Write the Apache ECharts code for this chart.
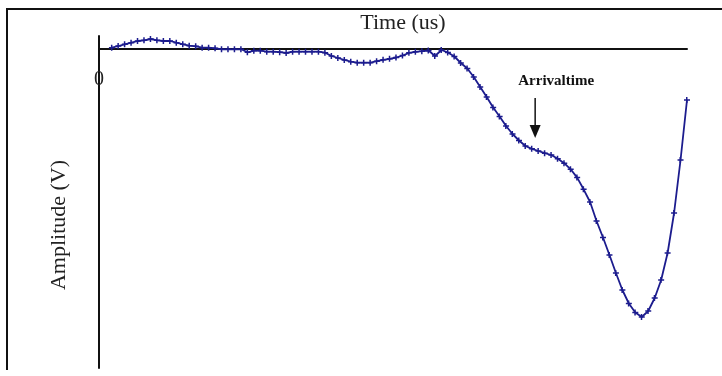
<!DOCTYPE html>
<html>
<head>
<meta charset="utf-8">
<script src="https://cdn.jsdelivr.net/npm/echarts@6/dist/echarts.min.js"></script>
<style>
  html, body { margin: 0; padding: 0; background: #fff; }
  #chart { width: 722px; height: 376px; }
</style>
</head>
<body>
<div id="chart"></div>
<script>
// amplitude (V) of each sample, one sample per time step
const amplitude = [
  0.013, 0.03, 0.047, 0.063, 0.08, 0.087, 0.10, 0.087, 0.08, 0.08,
  0.063, 0.047, 0.033, 0.027, 0.013, 0.013, 0.007, -0.003, -0.003, -0.003,
  -0.003, -0.033, -0.017, -0.017, -0.027, -0.027, -0.032, -0.04, -0.027, -0.027,
  -0.027, -0.027, -0.027, -0.037, -0.07, -0.09, -0.11, -0.127, -0.137, -0.137,
  -0.137, -0.122, -0.108, -0.098, -0.085, -0.065, -0.038, -0.028, -0.022, -0.015,
  -0.07, -0.01, -0.035, -0.075, -0.14, -0.195, -0.28, -0.38, -0.48, -0.585,
  -0.675, -0.77, -0.85, -0.915, -0.97, -0.998, -1.02, -1.042, -1.06, -1.098,
  -1.142, -1.203, -1.286, -1.403, -1.53, -1.72, -1.885, -2.06, -2.24, -2.41,
  -2.545, -2.635, -2.68, -2.62, -2.49, -2.31, -2.04, -1.64, -1.11, -0.51
];
const xTickValues = [-2];
const xTickLabels = ['0'];
const xName = 'Time (us)';
const yName = 'Amplitude (V)';
const arrivalLabel = 'Arrivaltime';
const arrivalTime = 65.5;

const serif = '"Liberation Serif", "DejaVu Serif", serif';
const lineColor = '#1c1c8e';

const chart = echarts.init(document.getElementById('chart'));

const option = {
  animation: false,
  backgroundColor: '#fff',
  grid: { left: 99, right: 35, top: 36, bottom: 8, outerBoundsMode: 'none' },
  xAxis: {
    type: 'value',
    min: -2,
    max: 89,
    axisLine: { onZero: true, lineStyle: { color: '#111', width: 2 } },
    axisTick: { show: false },
    splitLine: { show: false },
    axisLabel: { show: false }
  },
  yAxis: {
    type: 'value',
    min: -3.19,
    max: 0.13,
    axisLine: { show: true, onZero: false, lineStyle: { color: '#111', width: 2 } },
    axisTick: { show: false },
    axisLabel: { show: false },
    splitLine: { show: false }
  },
  series: [{
    type: 'line',
    data: amplitude.map((v, i) => [i, v]),
    symbol: 'path://M2,0H3.5V2.25H6V3.75H3.5V6H2V3.75H0V2.25H2Z',
    symbolSize: 6,
    showAllSymbol: true,
    lineStyle: { color: lineColor, width: 1.8 },
    itemStyle: { color: lineColor }
  }],
  graphic: [
    { id: 'top', type: 'line', shape: { x1: 6, y1: 9, x2: 722, y2: 9 }, style: { stroke: '#111', lineWidth: 2 } },
    { id: 'left', type: 'line', shape: { x1: 7, y1: 9, x2: 7, y2: 370 }, style: { stroke: '#111', lineWidth: 2 } },
    { id: 'xname', type: 'text', x: 403, y: 23,
      style: { text: xName, font: '22px ' + serif, fill: '#222', align: 'center', verticalAlign: 'middle' } },
    { id: 'yname', type: 'text', x: 59, y: 225, rotation: Math.PI / 2,
      style: { text: yName, font: '22px ' + serif, fill: '#222', align: 'center', verticalAlign: 'middle' } }
  ]
};
chart.setOption(option);

// tick label "0" below the x axis, and arrow pointing at arrival time
const extra = xTickValues.map((v, k) => {
  const q = chart.convertToPixel({ gridIndex: 0 }, [v, 0]);
  return { id: 'xtick' + k, type: 'text', x: q[0], y: q[1] + 31, z: 10,
    style: { text: xTickLabels[k], font: '20px ' + serif, fill: '#222', align: 'center', verticalAlign: 'middle' } };
});
const lo = Math.floor(arrivalTime), hi = Math.ceil(arrivalTime);
const arrivalAmp = (amplitude[lo] + amplitude[hi]) / 2;
const p = chart.convertToPixel({ gridIndex: 0 }, [arrivalTime, arrivalAmp]);
const tipY = p[1] - 12;
extra.push(
  { id: 'arrowLine', type: 'line', shape: { x1: p[0], y1: tipY - 40, x2: p[0], y2: tipY - 12 },
    style: { stroke: '#111', lineWidth: 1.5 } },
  { id: 'arrowHead', type: 'polygon',
    shape: { points: [[p[0] - 5.5, tipY - 13], [p[0] + 5.5, tipY - 13], [p[0], tipY]] },
    style: { fill: '#111' } },
  { id: 'arrivalText', type: 'text', x: p[0] + 21, y: tipY - 57,
    style: { text: arrivalLabel, font: 'bold 15px ' + serif, fill: '#111', align: 'center', verticalAlign: 'middle' } }
);
chart.setOption({ graphic: extra });
</script>
</body>
</html>
